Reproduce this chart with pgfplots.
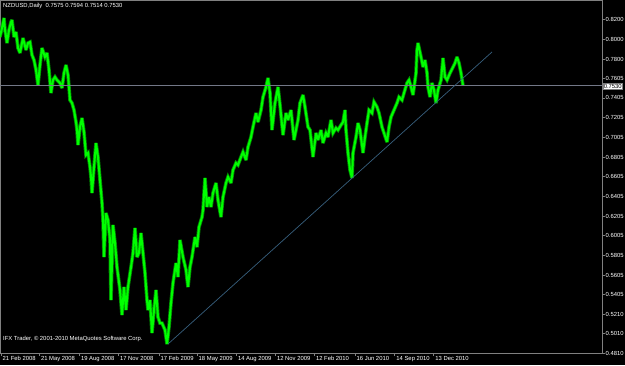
\documentclass[border=0pt]{standalone}
\usepackage{pgfplots}
\pgfplotsset{compat=1.18}
\usepackage{pgfplotstable}
\usepackage{fontspec}
\setmainfont{Liberation Sans}
\definecolor{mtgreen}{RGB}{0,255,0}
\definecolor{mtdark}{RGB}{0,140,0}
\definecolor{framec}{RGB}{128,128,128}
\definecolor{hlinec}{RGB}{115,120,135}
\definecolor{trendc}{RGB}{55,95,125}
\pgfplotstableread{
x p
0 0.8024
2 0.8116
4 0.8217
5 0.8095
7 0.7963
9 0.8095
11 0.8176
12 0.8197
14 0.8024
16 0.8075
18 0.7912
20 0.7862
23 0.8014
26 0.7892
28 0.7963
30 0.7973
32 0.7841
34 0.7790
36 0.7689
38 0.7536
40 0.7740
42 0.7912
45 0.7821
47 0.7862
49 0.7689
51 0.7455
53 0.7587
55 0.7618
57 0.7587
60 0.7557
62 0.7506
64 0.7658
66 0.7740
68 0.7638
69 0.7516
70 0.7384
72 0.7353
74 0.7282
76 0.7160
77 0.7079
78 0.6927
80 0.7110
82 0.7201
84 0.7059
86 0.6825
88 0.6846
90 0.6703
91 0.6602
92 0.6439
94 0.6703
96 0.6947
98 0.6805
100 0.6571
102 0.6338
103 0.6165
104 0.5789
106 0.6236
108 0.6165
110 0.5962
111 0.5352
113 0.6114
115 0.5931
117 0.5687
120 0.5454
122 0.5200
124 0.5484
126 0.5250
128 0.5484
131 0.5687
133 0.5830
135 0.6084
137 0.5789
139 0.5830
141 0.6033
143 0.5830
145 0.5626
147 0.5352
148 0.5250
150 0.5352
152 0.5017
154 0.5250
156 0.5454
158 0.5179
160 0.5118
162 0.5118
165 0.5047
167 0.4905
169 0.5078
171 0.5322
173 0.5525
176 0.5728
178 0.5586
180 0.5962
183 0.5789
186 0.5657
188 0.5484
190 0.5687
192 0.5789
195 0.5992
197 0.5890
199 0.6094
202 0.6195
203 0.6266
205 0.6592
207 0.6297
209 0.6398
211 0.6297
213 0.6439
216 0.6541
218 0.6368
221 0.6195
223 0.6398
226 0.6541
228 0.6602
231 0.6541
233 0.6673
236 0.6744
238 0.6724
241 0.6805
243 0.6856
246 0.6774
248 0.6906
251 0.7008
253 0.7110
256 0.7252
258 0.7160
261 0.7282
263 0.7414
266 0.7516
268 0.7608
270 0.7455
272 0.7079
275 0.7353
278 0.7516
280 0.7333
283 0.7028
286 0.7252
288 0.7181
291 0.7282
294 0.6978
298 0.7181
300 0.7353
303 0.7435
305 0.7313
308 0.7110
310 0.7079
313 0.6805
316 0.7049
318 0.6978
321 0.7079
323 0.6947
326 0.7049
328 0.7008
331 0.7181
333 0.7049
336 0.7100
338 0.7079
341 0.7130
343 0.7160
345 0.7282
346 0.7079
348 0.6846
350 0.6673
352 0.6592
353 0.6846
356 0.7008
358 0.7150
360 0.7079
363 0.6846
365 0.7008
367 0.7150
369 0.7282
372 0.7252
374 0.7364
377 0.7313
379 0.7252
382 0.7110
384 0.7049
387 0.6957
389 0.7110
391 0.7211
394 0.7282
397 0.7353
399 0.7414
402 0.7384
404 0.7455
407 0.7557
409 0.7587
411 0.7516
413 0.7435
416 0.7658
417 0.7892
418 0.7963
421 0.7821
423 0.7719
425 0.7790
427 0.7658
428 0.7516
430 0.7414
432 0.7557
434 0.7486
436 0.7353
438 0.7486
441 0.7587
443 0.7811
445 0.7618
447 0.7587
450 0.7658
453 0.7719
455 0.7760
457 0.7821
459 0.7760
461 0.7658
463 0.7530
}\pricedata
\begin{document}
\begin{tikzpicture}[x=1bp,y=1bp]
\useasboundingbox (0,-12) rectangle (625,353);
\fill[black] (0,-12) rectangle (625,353);
\begin{axis}[
  at={(0,0)}, anchor=south west,
  scale only axis, width=602bp, height=353bp,
  xmin=0, xmax=602, ymin=0.4814, ymax=0.8400,
  axis line style={framec, line width=0.8bp},
  tick align=outside,
  major tick length=3bp,
  tick style={framec, line width=0.8bp},
  xtick pos=bottom, ytick pos=right,
  yticklabel pos=right,
  xtick={1,39.3,79.3,118.3,159,197,236.3,275.3,314.3,355,394.7,433.7},
  xticklabels={21 Feb 2008,21 May 2008,19 Aug 2008,17 Nov 2008,17 Feb 2009,18 May 2009,14 Aug 2009,12 Nov 2009,12 Feb 2010,16 Jun 2010,14 Sep 2010,13 Dec 2010},
  ytick={0.8200,0.8000,0.7800,0.7605,0.7405,0.7205,0.7005,0.6805,0.6605,0.6405,0.6205,0.6005,0.5805,0.5605,0.5405,0.5210,0.5010,0.4814},
  yticklabels={0.8200,0.8000,0.7800,0.7605,0.7405,0.7205,0.7005,0.6805,0.6605,0.6405,0.6205,0.6005,0.5805,0.5605,0.5405,0.5210,0.5010,0.4810},
  xticklabel style={anchor=north west, inner sep=0pt, xshift=1.5bp, yshift=-0.5bp, text=white, font=\fontsize{5.9}{6}\selectfont},
  yticklabel style={anchor=west, inner sep=0pt, xshift=0.5bp, text=white, font=\fontsize{5.9}{6}\selectfont},
  clip=true,
]
\addplot[mtdark, line width=3.6bp, line join=miter, miter limit=3] table[x=x, y=p] {\pricedata};
\addplot[mtgreen, line width=2bp, line join=miter, miter limit=3] table[x=x, y=p] {\pricedata};
\addplot[hlinec, line width=0.9bp] coordinates {(0,0.7530) (602,0.7530)};
\addplot[trendc, line width=0.7bp] coordinates {(168,0.4905) (492,0.7872)};
\end{axis}
\node[anchor=west, inner sep=0.6bp, fill=white, draw=framec, line width=0.3bp, text=black, font=\fontsize{5.9}{6}\selectfont] at (603,267) {0.7530};
\node[anchor=north west, inner sep=0pt, text=white, font=\fontsize{5.9}{6}\selectfont] at (3,350) {NZDUSD,Daily\ \ 0.7575 0.7594 0.7514 0.7530};
\node[anchor=west, inner sep=0pt, text=white, font=\fontsize{5.9}{6}\selectfont] at (3,14) {IFX Trader, © 2001-2010 MetaQuotes Software Corp.};
\end{tikzpicture}
\end{document}
